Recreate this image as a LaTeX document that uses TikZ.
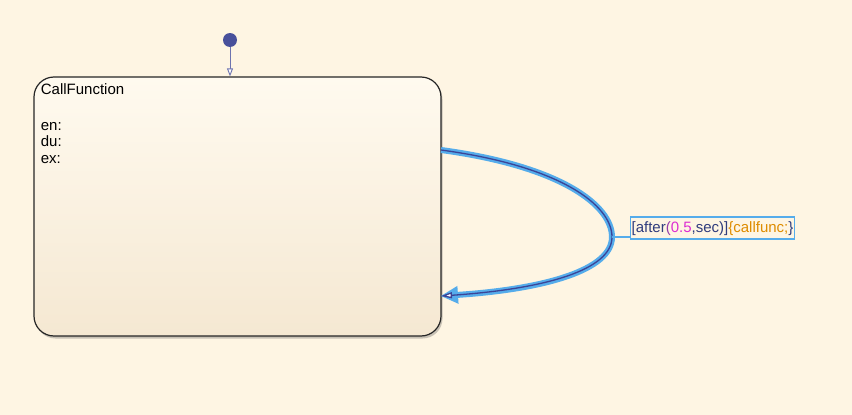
\documentclass[tikz,border=0pt]{standalone}
\usepackage{fontspec}
\setmainfont{Liberation Sans}
\usetikzlibrary{arrows.meta, positioning, shadows}

\definecolor{chartbg}{RGB}{254,245,227}
\definecolor{statetop}{RGB}{255,250,239}
\definecolor{statebot}{RGB}{245,232,210}
\definecolor{initblue}{RGB}{72,80,155}
\definecolor{glowblue}{RGB}{85,172,235}
\definecolor{linkblue}{RGB}{60,68,150}
\definecolor{guardblue}{RGB}{48,60,125}
\definecolor{guardpink}{RGB}{220,45,210}
\definecolor{guardpurple}{RGB}{150,60,170}
\definecolor{actorange}{RGB}{222,140,0}

\tikzset{
  state/.style={draw=black!85, line width=1.2pt, rounded corners=20pt,
    top color=statetop, bottom color=statebot,
    drop shadow={shadow xshift=1.5pt, shadow yshift=-2.5pt, opacity=.3, fill=black!70}},
  statetext/.style={inner sep=0pt, anchor=base west},
  initdot/.style={circle, fill=initblue, minimum size=14pt, inner sep=0pt},
  initarrow/.style={draw=initblue!80!white, line width=0.9pt,
    -{Triangle[open, length=8pt, width=6pt, fill=white]}},
  transglow/.style={draw=glowblue, line width=6pt,
    -{Triangle[length=17pt, width=18pt, line width=0pt]}},
  transline/.style={draw=linkblue, line width=1.3pt,
    -{Triangle[open, length=11pt, width=6pt, fill=white]}},
  guard/.style={draw=glowblue, line width=1.2pt, inner xsep=1.5pt,
    text height=11pt, text depth=3pt, minimum height=22pt},
}

\begin{document}
\begin{tikzpicture}[x=1pt, y=-1pt, font=\fontsize{15}{17}\selectfont]
\useasboundingbox (0,0) rectangle (852,415);
\fill[chartbg] (0,0) rectangle (852,415);

% State
\node[state, minimum width=407pt, minimum height=259pt] (callfn) at (237.5,206.5) {};
\node[statetext] (title) at ([shift={(7.3pt,-18pt)}]callfn.north west) {CallFunction};
\node[statetext] (en) at ([shift={(7.3pt,-54pt)}]callfn.north west) {en:};
\node[statetext] (du) at ([yshift=-16.5pt]en.base west) {du:};
\node[statetext] (ex) at ([yshift=-16.5pt]du.base west) {ex:};

% Default transition
\node[initdot] (init) at (230,40) {};
\draw[initarrow] (init) -- (init |- callfn.north);

% Self transition
\coordinate (tstart) at (441,150);
\coordinate (apex) at (612,237);
\coordinate (tend) at (441,296);
\draw[transglow] (tstart) .. controls (560,166) and (612,205) .. (apex)
  .. controls (612,270) and (545,289) .. (tend);
\draw[transline] (tstart) .. controls (560,166) and (612,205) .. (apex)
  .. controls (612,270) and (545,289) .. (tend);

% Label
\node[guard] (cond) at (712.5,228) {\textcolor{guardblue}{[after}\textcolor{guardpurple}{(}\textcolor{guardpink}{0.5}\textcolor{guardblue}{,sec)]}\textcolor{actorange}{\{callfunc;}\textcolor{guardblue}{\}}};
\draw[glowblue, line width=1.5pt] (apex) -- (apex -| cond.west);
\end{tikzpicture}
\end{document}
